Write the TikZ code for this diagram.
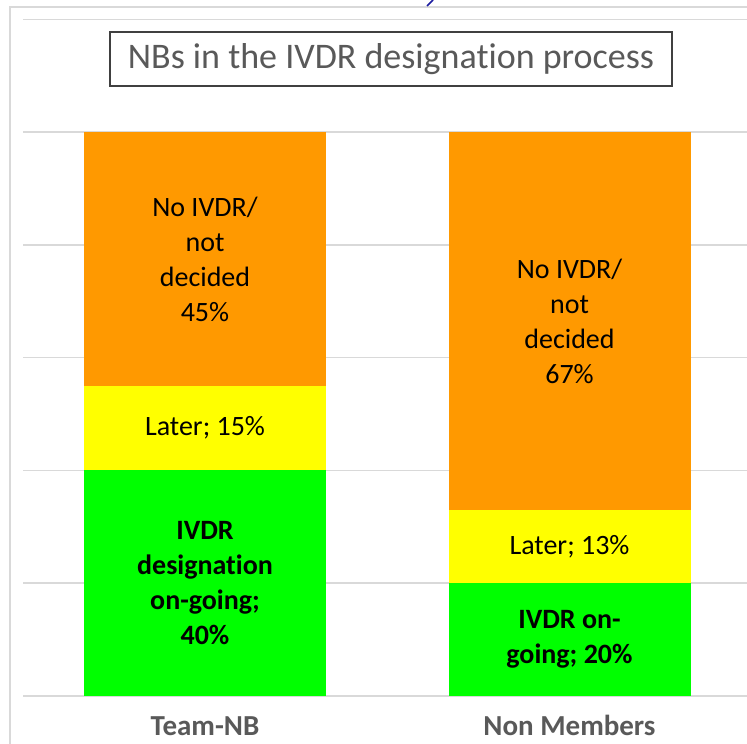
\documentclass[tikz,border=0pt]{standalone}
\usepackage{fontspec}
\setmainfont{Carlito}[Ligatures={NoCommon}]
\definecolor{segorange}{HTML}{FF9900}
\definecolor{segyellow}{HTML}{FFFF00}
\definecolor{seggreen}{HTML}{00FF00}
\definecolor{gridgray}{HTML}{D9D9D9}
\definecolor{txtgray}{HTML}{595959}
\definecolor{boxgray}{HTML}{404040}
\definecolor{cutblue}{HTML}{1C1CA0}
\begin{document}
\begin{tikzpicture}[x=1pt,y=-1pt,
  seg/.style={minimum width=242pt, inner sep=0pt, align=center, text=black,
    font=\fontsize{28}{35}\selectfont},
  segbold/.style={seg, font=\fontsize{28}{35}\selectfont\bfseries},
  gridline/.style={draw=gridgray, line width=1.5pt},
  catlabel/.style={anchor=base, text=txtgray, font=\fontsize{29}{35}\selectfont\bfseries, inner sep=0pt}]
\useasboundingbox (0,0) rectangle (747,744);
\fill[white] (0,0) rectangle (747,744);
% chart border
\draw[gridgray, line width=2pt] (10,744) -- (10,7) -- (747,7);
% cut-off blue stroke at the top
\draw[cutblue, line width=1.6pt] (433,0) -- (427,6);
% gridlines
\foreach \gy in {19.4,132,244.8,357.6,470.4,583.2,696}
  \draw[gridline] (23,\gy) -- (747,\gy);
% title
\node[draw=boxgray, line width=1.5pt, minimum width=562pt, minimum height=54pt, inner sep=0pt,
  text=txtgray, font=\fontsize{36}{40}\selectfont] (title) at (391,59) {NBs in the IVDR designation process};
% Team-NB bar
\node[seg, fill=segorange, minimum height=253.8pt] (tno) at (205,258.9) {No IVDR/\\not\\decided\\45\%};
\node[seg, fill=segyellow, minimum height=84.6pt] (tlater) at (205,428.1) {Later; 15\%};
\node[segbold, fill=seggreen, minimum height=225.6pt] (tgo) at (205,583.2) {IVDR\\designation\\on-going;\\40\%};
% Non Members bar
\node[seg, fill=segorange, minimum height=377.9pt] (nno) at (569.5,320.95) {No IVDR/\\not\\decided\\67\%};
\node[seg, fill=segyellow, minimum height=73.3pt] (nlater) at (569.5,546.55) {Later; 13\%};
\node[segbold, fill=seggreen, minimum height=112.8pt] (ngo) at (569.5,639.6) {IVDR on-\\going; 20\%};
% category labels
\node[catlabel] (cat1) at (205,735) {Team-NB};
\node[catlabel] (cat2) at (569.5,735) {Non Members};
\end{tikzpicture}
\end{document}
